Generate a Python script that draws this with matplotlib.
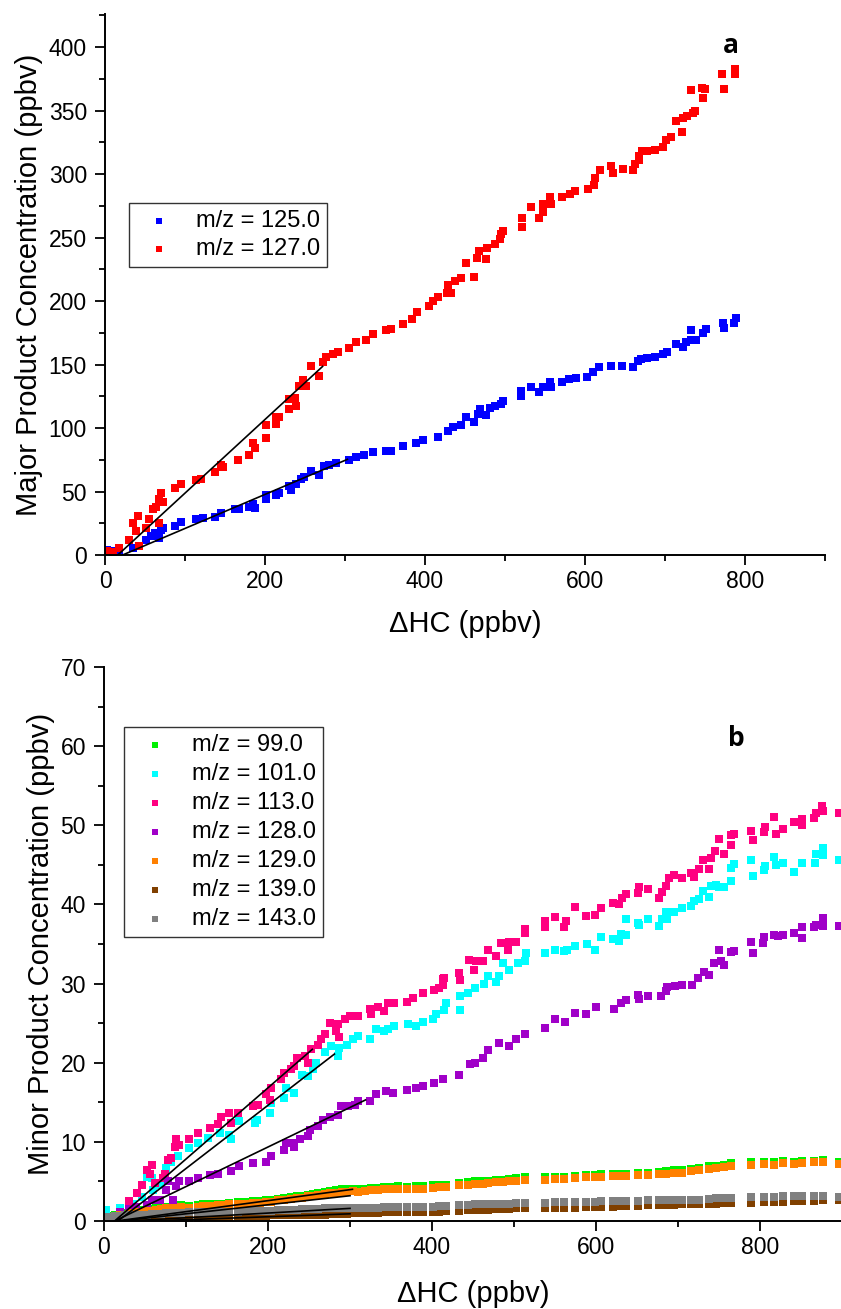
import numpy as np
import matplotlib
matplotlib.use("Agg")
import matplotlib.pyplot as plt
from matplotlib.ticker import MultipleLocator

plt.rcParams['font.family'] = ['Liberation Sans', 'DejaVu Sans']

#panel a data (major products)
x_125 = [3, 12, 18, 35, 43, 51, 57, 62, 68, 70, 72, 87, 95, 114, 122, 137, 145, 162, 168, 180,
         185, 187, 201, 201, 214, 218, 230, 232, 239, 245, 249, 257, 268, 274, 280, 289, 305, 314, 324, 335,
         351, 357, 372, 389, 397, 416, 429, 435, 445, 451, 461, 466, 469, 476, 481, 487, 495, 497, 520, 520,
         533, 543, 548, 556, 558, 571, 580, 589, 603, 610, 618, 633, 646, 660, 666, 670, 678, 687, 697, 703,
         714, 722, 726, 732, 739, 732, 747, 751, 772, 774, 786, 789]
y_125 = [3.7, 3, 4, 5.5, 7, 12, 15, 17, 13, 20, 21, 23, 26, 28, 29, 30, 33, 36, 36, 37.6,
         40, 37, 44, 47, 47.6, 49, 54, 51, 56, 59.5, 61.6, 66, 63, 70, 71, 72.6, 75, 77, 79, 81,
         82, 82, 86, 88, 90.5, 93, 98, 101, 102, 109, 105, 111, 115, 110, 115.5, 117, 119, 121, 125, 129,
         132, 128, 132.5, 136, 132.5, 136, 138.5, 139, 140, 144, 148, 149, 149, 148, 153, 154, 155, 156, 158, 160,
         166, 164, 168, 169, 169, 177, 175, 178, 183, 179, 183, 187]

x_127 = [3, 10, 18, 30, 35, 39, 41, 43, 51, 55, 60, 64, 68, 68, 70, 72, 87, 95, 114, 120,
         137, 145, 147, 166, 180, 185, 187, 201, 201, 214, 214, 218, 230, 230, 237, 239, 243, 247, 251, 258,
         268, 272, 276, 285, 291, 305, 314, 326, 335, 351, 357, 372, 384, 390, 405, 410, 416, 428, 429, 433,
         437, 445, 451, 461, 465, 468, 476, 478, 487, 494, 495, 498, 521, 521, 533, 543, 547, 547, 556, 558,
         571, 581, 588, 604, 611, 612, 619, 633, 635, 647, 660, 663, 667, 668, 671, 678, 687, 698, 701, 708,
         714, 721, 722, 727, 735, 738, 733, 746, 747, 750, 771, 774, 787, 788]
y_127 = [3, 2, 5.5, 12, 25, 19, 31, 7, 21, 28, 36, 38, 25, 44, 49, 42, 53, 56, 59, 60,
         65, 71, 69, 75, 79, 88, 84, 102, 92, 103, 109, 109, 115, 123, 124, 117, 133, 138, 133, 149,
         141, 152, 156, 158, 160, 163, 168, 169, 174, 177, 178, 182, 186, 191, 196, 200, 203, 206, 213, 206,
         216, 218, 230, 219, 234, 239, 233, 242, 245, 249, 253, 255, 258, 265, 274, 265, 270, 276, 282, 276,
         282, 284, 287, 288, 291, 297, 303, 306, 301, 304, 303, 308, 314, 311, 318, 318, 319, 321, 327, 329,
         342, 333, 344, 346, 348, 350, 366, 368, 360, 367, 379, 367, 379, 383]

#linear fits panel a (125, 127)
fit_a_start = [22, 16]
fit_a_end = [303, 272]
fit_a_slope = [0.268, 0.58]

#panel b data (minor products)
x_101 = [2, 19, 35, 46, 52, 58, 60, 68, 76, 82, 90, 104, 115, 127, 141, 153, 155, 165, 184, 186,
         202, 204, 220, 222, 232, 241, 249, 255, 259, 269, 277, 285, 287, 296, 304, 310, 324, 332, 342, 346,
         354, 371, 381, 389, 401, 405, 415, 417, 434, 434, 444, 452, 464, 468, 478, 482, 486, 494, 505, 513,
         515, 538, 550, 561, 565, 574, 589, 599, 606, 621, 628, 631, 636, 637, 651, 653, 664, 677, 680, 685,
         687, 695, 705, 716, 719, 726, 731, 738, 740, 746, 750, 756, 765, 765, 768, 789, 792, 805, 806, 817,
         820, 828, 841, 851, 867, 868, 877, 877, 896]
y_101 = [1.4, 1.6, 2.2, 3.0, 5.6, 5.4, 3.9, 4.6, 6.7, 7.5, 8.2, 9.2, 9.9, 10.5, 11.1, 10.9, 10.3, 12.6, 12.4, 12.8,
         13.7, 14.9, 15.6, 16.8, 16.2, 18.5, 18.3, 19.2, 20, 21.3, 22.1, 20.8, 21.9, 22.3, 23, 23.4, 23, 24.3, 24, 24.2,
         24.6, 24.9, 24.7, 25.1, 25.5, 26.2, 26.6, 27.5, 26.6, 28.4, 28.8, 29.4, 29.9, 31, 30.2, 30.9, 32.6, 31.7, 32.6, 32.8,
         33.9, 33.9, 34.3, 34.1, 34.3, 34.7, 35, 34.3, 35.9, 35.6, 35.4, 36.3, 36.1, 38.2, 37.7, 37.4, 38.1, 37.3, 38.2, 39.1,
         38.2, 39.1, 39.5, 39.8, 40.4, 40.7, 41.7, 40.9, 42.3, 42.5, 42.2, 42.2, 42.9, 44.6, 45.1, 45.6, 43.6, 44.4, 44.8, 46,
         45, 45.2, 44.1, 45.2, 45.2, 46.4, 47.1, 46.3, 45.6]

x_113 = [19, 30, 40, 46, 52, 56, 58, 62, 72, 74, 78, 82, 86, 88, 92, 104, 115, 129, 139, 143,
         153, 155, 163, 182, 188, 198, 202, 204, 216, 220, 228, 232, 235, 245, 249, 253, 261, 265, 269, 275,
         283, 285, 287, 294, 300, 310, 324, 326, 334, 342, 346, 354, 370, 377, 389, 403, 409, 413, 413, 415,
         433, 434, 445, 451, 454, 462, 468, 478, 484, 493, 494, 503, 513, 514, 538, 538, 550, 561, 563, 574,
         588, 599, 606, 621, 628, 632, 637, 651, 653, 664, 677, 680, 685, 689, 695, 705, 716, 719, 725, 731,
         738, 740, 745, 750, 756, 765, 765, 768, 789, 792, 805, 806, 817, 820, 828, 841, 851, 851, 866, 868,
         876, 877, 896]
y_113 = [1.2, 2.5, 3.5, 4.5, 6.5, 6, 7.1, 4.8, 5.4, 6, 7.7, 8, 9.4, 10.3, 9.6, 10.3, 11.1, 11.8, 12.2, 13.2,
         13.7, 12.4, 13.7, 14.5, 14.7, 16, 15.3, 16.8, 17.9, 18.7, 19.2, 19.6, 20.6, 20.8, 20, 21.7, 22.3, 23, 23.6, 25,
         24, 24.9, 23.3, 25.5, 25.9, 25.9, 26.8, 26.1, 27.1, 26.5, 27.6, 27.5, 27.7, 28.2, 28.8, 29.2, 29.4, 30.6, 29.8, 30.7,
         31.3, 30.5, 33, 31.7, 32.9, 32.9, 34.3, 33.5, 35.1, 34.3, 35.3, 35.2, 36.4, 36.9, 37.9, 37.2, 38.4, 37.2, 37.9, 39.7,
         38.5, 38.7, 39.5, 40.2, 40, 40.8, 41.3, 41.4, 42.2, 42, 40.8, 41.6, 42.3, 43.4, 43.7, 43.3, 44, 43.5, 44.5, 45.6,
         44.5, 45.9, 46.7, 48.3, 46.4, 48.8, 47.5, 48.9, 49.3, 48.1, 49.2, 49.8, 51.1, 48.9, 49.5, 50.4, 50.8, 50, 50.9, 51.5,
         52.5, 51.8, 51.5]

x_128 = [19, 30, 39, 52, 58, 68, 76, 78, 84, 88, 92, 104, 115, 129, 139, 155, 165, 182, 198, 204,
         220, 222, 232, 232, 239, 249, 251, 261, 267, 275, 285, 289, 298, 306, 310, 324, 332, 344, 352, 369,
         381, 389, 403, 413, 433, 446, 452, 462, 468, 482, 494, 502, 513, 538, 550, 562, 574, 588, 600, 622,
         631, 637, 651, 653, 664, 679, 685, 687, 696, 705, 717, 724, 732, 738, 744, 750, 752, 756, 765, 768,
         789, 792, 804, 805, 817, 822, 828, 841, 851, 851, 866, 868, 877, 877, 896]
y_128 = [1.2, 1.5, 1.8, 2, 2.7, 2.7, 3.9, 5, 2.7, 4.4, 5, 5, 5.4, 5.8, 6, 6.3, 6.9, 7.3, 7.5, 8.2,
         9, 9.9, 9.9, 9.4, 10.3, 10.7, 11.5, 12, 12.8, 13.2, 13.4, 14.5, 14.5, 14.7, 15.1, 15.1, 16, 16.4, 16.2, 16.5,
         16.8, 17.1, 17.5, 17.9, 18.5, 19.8, 20, 20.6, 21.6, 22.5, 22.1, 23, 23.6, 24.4, 25.5, 25.2, 26.3, 26.2, 27, 26.8,
         27.6, 27.9, 28.5, 28, 28.4, 28.4, 29.1, 29.6, 29.7, 29.8, 29.8, 30.7, 31.4, 31.1, 32.6, 34.2, 32.8, 32.3, 34, 34.1,
         35.2, 33.8, 35.1, 35.9, 36.2, 36, 36.1, 36.4, 37.1, 35.7, 37.2, 37.4, 38.3, 37.3, 37.3]

#low series share one x list
x_low = [2, 8, 14, 19, 25, 30, 35, 40, 46, 52,
         58, 64, 70, 76, 82, 88, 94, 104, 115, 121,
         129, 139, 145, 153, 163, 172, 182, 190, 198, 204,
         212, 220, 228, 235, 241, 249, 255, 261, 269, 275,
         283, 290, 296, 304, 310, 318, 326, 334, 342, 350,
         358, 370, 381, 389, 401, 409, 417, 433, 444, 452,
         462, 468, 478, 486, 494, 503, 513, 538, 550, 561,
         574, 588, 599, 606, 621, 631, 637, 651, 664, 677,
         685, 695, 705, 716, 726, 738, 746, 756, 765, 789,
         805, 817, 828, 841, 851, 866, 877, 896]
y_99 = [0.7, 0.6, 0.8, 0.9, 1.0, 1.1, 1.2, 1.3, 1.4, 1.5,
        1.5, 1.6, 1.7, 1.8, 1.8, 1.9, 2.0, 1.9, 2.0, 2.1,
        2.1, 2.2, 2.2, 2.3, 2.4, 2.4, 2.5, 2.5, 2.6, 2.6,
        2.8, 2.9, 3.0, 3.1, 3.1, 3.3, 3.4, 3.5, 3.7, 3.8,
        3.9, 4.0, 4.0, 4.1, 4.0, 4.1, 4.2, 4.2, 4.3, 4.3,
        4.4, 4.3, 4.4, 4.4, 4.5, 4.6, 4.6, 4.8, 4.9, 5.0,
        5.0, 5.1, 5.2, 5.2, 5.3, 5.4, 5.5, 5.5, 5.6, 5.6,
        5.7, 5.8, 5.8, 5.9, 6.0, 6.0, 6.0, 6.1, 6.1, 6.2,
        6.3, 6.4, 6.4, 6.6, 6.7, 6.9, 7.0, 7.1, 7.3, 7.4,
        7.5, 7.4, 7.6, 7.5, 7.6, 7.6, 7.7, 7.4]
y_129 = [0.5, 0.4, 0.6, 0.7, 0.8, 0.9, 1.0, 1.1, 1.2, 1.3,
         1.3, 1.4, 1.5, 1.6, 1.6, 1.7, 1.8, 1.7, 1.8, 1.9,
         1.9, 2.0, 2.0, 2.1, 2.2, 2.2, 2.3, 2.3, 2.4, 2.4,
         2.6, 2.7, 2.8, 2.9, 2.9, 3.1, 3.2, 3.3, 3.4, 3.5,
         3.6, 3.7, 3.7, 3.8, 3.7, 3.8, 3.9, 3.9, 4.0, 4.0,
         4.1, 4.0, 4.1, 4.1, 4.2, 4.3, 4.3, 4.5, 4.6, 4.7,
         4.7, 4.8, 4.9, 4.9, 5.0, 5.1, 5.2, 5.2, 5.3, 5.3,
         5.4, 5.5, 5.5, 5.6, 5.7, 5.7, 5.7, 5.8, 5.8, 5.9,
         6.0, 6.1, 6.1, 6.3, 6.4, 6.6, 6.7, 6.8, 7.0, 7.1,
         7.2, 7.1, 7.3, 7.2, 7.3, 7.4, 7.5, 7.2]
y_139 = [0.1, 0.1, 0.1, 0.2, 0.2, 0.2, 0.2, 0.2, 0.3, 0.3,
         0.3, 0.3, 0.3, 0.3, 0.4, 0.4, 0.4, 0.4, 0.4, 0.5,
         0.5, 0.5, 0.5, 0.5, 0.6, 0.6, 0.6, 0.6, 0.6, 0.7,
         0.7, 0.7, 0.7, 0.7, 0.8, 0.8, 0.8, 0.8, 0.8, 0.9,
         0.9, 0.9, 0.9, 1.0, 1.0, 1.0, 1.0, 1.0, 1.1, 1.1,
         1.1, 1.1, 1.2, 1.2, 1.2, 1.2, 1.3, 1.3, 1.4, 1.4,
         1.4, 1.4, 1.5, 1.5, 1.5, 1.6, 1.6, 1.6, 1.7, 1.7,
         1.7, 1.8, 1.8, 1.8, 1.8, 1.9, 1.9, 1.9, 2.0, 2.0,
         2.0, 2.0, 2.1, 2.1, 2.1, 2.2, 2.2, 2.3, 2.3, 2.3,
         2.4, 2.4, 2.4, 2.5, 2.5, 2.5, 2.6, 2.6]
y_143 = [0.5, 0.5, 0.6, 0.6, 0.7, 0.7, 0.7, 0.8, 0.8, 0.8,
         0.9, 0.9, 0.9, 1.0, 1.0, 1.0, 1.0, 1.1, 1.1, 1.1,
         1.1, 1.2, 1.2, 1.2, 1.2, 1.3, 1.3, 1.3, 1.3, 1.3,
         1.4, 1.4, 1.4, 1.4, 1.5, 1.5, 1.5, 1.5, 1.6, 1.6,
         1.6, 1.6, 1.7, 1.7, 1.7, 1.7, 1.7, 1.7, 1.8, 1.8,
         1.8, 1.8, 1.8, 1.8, 1.8, 1.9, 1.9, 2.0, 2.0, 2.1,
         2.1, 2.1, 2.2, 2.2, 2.2, 2.3, 2.3, 2.3, 2.4, 2.4,
         2.4, 2.4, 2.4, 2.5, 2.5, 2.5, 2.5, 2.5, 2.6, 2.6,
         2.6, 2.6, 2.6, 2.7, 2.7, 2.8, 2.9, 2.9, 2.9, 3.0,
         3.0, 3.0, 3.1, 3.1, 3.1, 3.2, 3.2, 3.0]

#linear fits panel b, order 99, 101, 113, 128, 129, 139, 143
fit_b_start = [15, 17, 13, 13, 20, 55, 30]
fit_b_end = [303, 281, 254, 319, 300, 300, 300]
fit_b_slope = [0.0139, 0.0799, 0.090, 0.050, 0.0114, 0.0037, 0.0059]

labels_a = ["m/z = 125.0", "m/z = 127.0"]
colors_a = ["#0000FF", "#FF0000"]
labels_b = ["m/z = 99.0", "m/z = 101.0", "m/z = 113.0", "m/z = 128.0",
            "m/z = 129.0", "m/z = 139.0", "m/z = 143.0"]
colors_b = ["#00F000", "#00FFFF", "#FF0080", "#A000C8", "#FF8000", "#804000", "#808080"]


def style_axis(ax, ymax, ymajor, yminor):
    ax.set_xlim(0, 900)
    ax.set_ylim(0, ymax)
    ax.xaxis.set_major_locator(MultipleLocator(200))
    ax.xaxis.set_minor_locator(MultipleLocator(100))
    ax.yaxis.set_major_locator(MultipleLocator(ymajor))
    ax.yaxis.set_minor_locator(MultipleLocator(yminor))
    ax.spines["top"].set_visible(False)
    ax.spines["right"].set_visible(False)
    for s in ["left", "bottom"]:
        ax.spines[s].set_linewidth(1.4)
    ax.tick_params(which="major", direction="out", length=7, width=1.3, labelsize=16.5)
    ax.tick_params(which="minor", direction="out", length=4, width=1.3)
    ax.tick_params(axis="y", which="major", pad=6)
    ax.tick_params(axis="x", which="major", pad=4)


fig = plt.figure(figsize=(8.41, 13.09), dpi=100)

#panel a
ax1 = fig.add_axes([105 / 841, 754 / 1309, 720 / 841, 541 / 1309])
ax1.scatter(x_125, y_125, s=36, marker="s", color=colors_a[0], linewidths=0, label=labels_a[0])
ax1.scatter(x_127, y_127, s=36, marker="s", color=colors_a[1], linewidths=0, label=labels_a[1])
for x0, x1, k in zip(fit_a_start, fit_a_end, fit_a_slope):
    xs = np.array([x0, x1])
    ax1.plot(xs, k * (xs - x0), color="black", lw=1.2, zorder=5)
style_axis(ax1, 426, 50, 25)
ax1.set_xlabel("ΔHC (ppbv)", fontsize=21, labelpad=12)
ax1.set_ylabel("Major Product Concentration (ppbv)", fontsize=21, labelpad=4)
leg1 = ax1.legend(loc="upper left", bbox_to_anchor=(0.033, 0.651), fontsize=17,
                  frameon=True, fancybox=False, borderaxespad=0, borderpad=0.3,
                  handlelength=2.0, handletextpad=0.55, labelspacing=0.25, markerscale=0.75)
leg1.get_frame().set_edgecolor("black")
leg1.get_frame().set_linewidth(1.0)
fig.text(731 / 841, 1 - 53 / 1309, "a", fontsize=19, fontweight="bold",
         family=["Open Sans", "DejaVu Sans"], ha="center", va="baseline")

#panel b
ax2 = fig.add_axes([104 / 841, 88 / 1309, 738 / 841, 554 / 1309])
series_b = [(x_low, y_99), (x_101, y_101), (x_113, y_113), (x_128, y_128),
            (x_low, y_129), (x_low, y_139), (x_low, y_143)]
for (xs, ys), c, lab in zip(series_b, colors_b, labels_b):
    ax2.scatter(xs, ys, s=32, marker="s", color=c, linewidths=0, label=lab)
for x0, x1, k in zip(fit_b_start, fit_b_end, fit_b_slope):
    xs = np.array([x0, x1])
    ax2.plot(xs, k * (xs - x0), color="black", lw=1.2, zorder=5)
style_axis(ax2, 70, 10, 5)
ax2.set_xlabel("ΔHC (ppbv)", fontsize=21, labelpad=15)
ax2.set_ylabel("Minor Product Concentration (ppbv)", fontsize=21, labelpad=4)
leg2 = ax2.legend(loc="upper left", bbox_to_anchor=(0.027, 0.892), fontsize=17,
                  frameon=True, fancybox=False, borderaxespad=0, borderpad=0.3,
                  handlelength=2.0, handletextpad=0.6, labelspacing=0.3, markerscale=0.8)
leg2.get_frame().set_edgecolor("black")
leg2.get_frame().set_linewidth(1.0)
fig.text(736 / 841, 1 - 746 / 1309, "b", fontsize=19, fontweight="bold",
         family=["Open Sans", "DejaVu Sans"], ha="center", va="baseline")

fig.savefig("out.png", dpi=100)
